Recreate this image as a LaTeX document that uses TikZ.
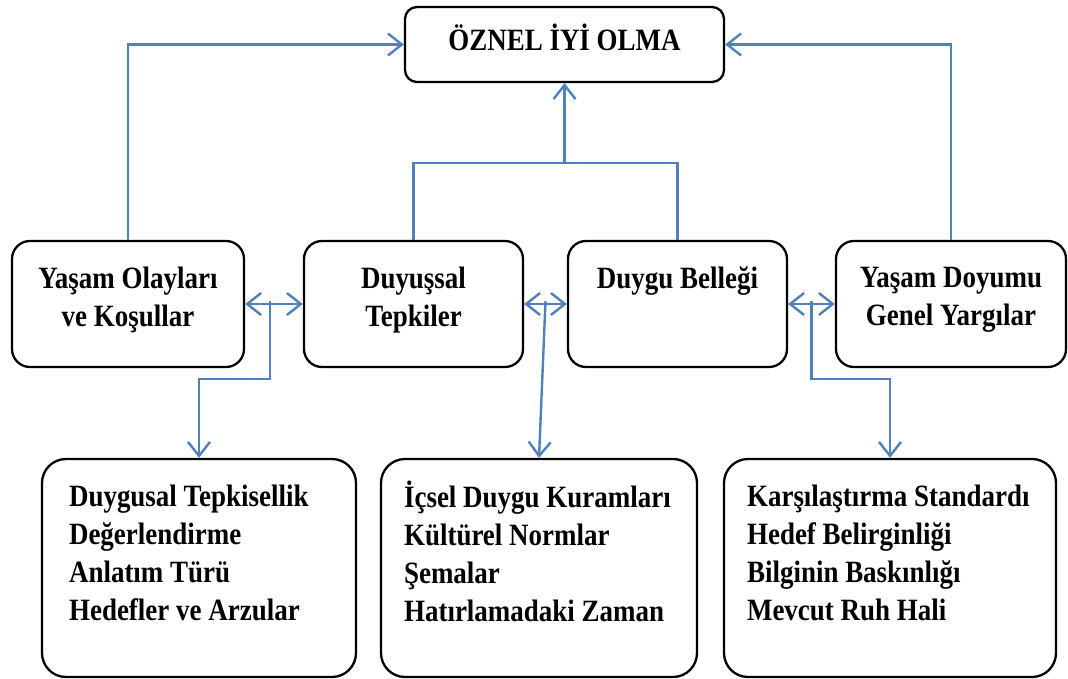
\documentclass[tikz,border=0pt]{standalone}
\usepackage{fontspec}
\setmainfont{Liberation Serif}[FakeStretch=0.87]
\usetikzlibrary{arrows.meta,calc}
\definecolor{linkblue}{HTML}{4F81BD}

\begin{document}
\begin{tikzpicture}[x=1pt,y=-1pt,
  >={Straight Barb[length=14pt,width=22pt]},
  box/.style={draw,line width=2.3pt,inner sep=0pt},
  txt/.style={font=\fontsize{31}{38}\selectfont\bfseries,inner sep=0pt},
  link/.style={draw=linkblue,line width=2.4pt}]
  \useasboundingbox (0,0) rectangle (1068,679);

  % boxes
  \node[box,rounded corners=12pt,minimum width=319,minimum height=75] (top) at (564.5,44.5) {};
  \node[box,rounded corners=18pt,minimum width=232,minimum height=126] (b1) at (128,304) {};
  \node[box,rounded corners=18pt,minimum width=219,minimum height=126] (b2) at (413.5,304) {};
  \node[box,rounded corners=18pt,minimum width=219,minimum height=126] (b3) at (677.5,304) {};
  \node[box,rounded corners=18pt,minimum width=230,minimum height=126] (b4) at (951,304) {};
  \node[box,rounded corners=24pt,minimum width=314,minimum height=218] (c1) at (199,568) {};
  \node[box,rounded corners=24pt,minimum width=316,minimum height=218] (c2) at (539,568) {};
  \node[box,rounded corners=24pt,minimum width=332,minimum height=218] (c3) at (890,568) {};

  % texts
  \node[txt,anchor=base] (t0) at ([yshift=-45pt]top.north) {ÖZNEL İYİ OLMA};
  \node[txt,align=center,anchor=north] (t1) at ([yshift=-27pt]b1.north) {Yaşam Olayları\\ve Koşullar};
  \node[txt,align=center,anchor=north] (t2) at ([yshift=-27pt]b2.north) {Duyuşsal\\Tepkiler};
  \node[txt,align=center,anchor=north] (t3) at ([yshift=-27pt]b3.north) {Duygu Belleği};
  \node[txt,align=center,anchor=north] (t4) at ([yshift=-27pt]b4.north) {Yaşam Doyumu\\Genel Yargılar};
  \node[txt,align=left,anchor=north west] (u1) at ([xshift=28pt,yshift=-27pt]c1.north west)
    {Duygusal Tepkisellik\\Değerlendirme\\Anlatım Türü\\Hedefler ve Arzular};
  \node[txt,align=left,anchor=north west] (u2) at ([xshift=24pt,yshift=-23pt]c2.north west)
    {İçsel Duygu Kuramları\\Kültürel Normlar\\Şemalar\\Hatırlamadaki Zaman};
  \node[txt,align=left,anchor=north west] (u3) at ([xshift=24pt,yshift=-27pt]c3.north west)
    {Karşılaştırma Standardı\\Hedef Belirginliği\\Bilginin Baskınlığı\\Mevcut Ruh Hali};

  % links
  \coordinate (j0) at (564.5,163);
  \coordinate (j1) at ($(b1.east)!0.43!(b2.west)$);
  \coordinate (j2) at ($(b2.east)!0.5!(b3.west)$);
  \coordinate (j3) at ($(b3.east)!0.5!(b4.west)$);
  \draw[link,->] (b1.north) |- (top.west);
  \draw[link,->] (b4.north) |- (top.east);
  \draw[link] (b2.north) |- (j0) -| (b3.north);
  \draw[link,->] (j0) -- (top.south);
  \draw[link,<->] (b1.east) -- (b2.west);
  \draw[link,<->] (b2.east) -- (b3.west);
  \draw[link,<->] (b3.east) -- (b4.west);
  \draw[link,->] ([yshift=3pt]j1) -- ++(0,78) -| (c1.north);
  \draw[link,->] ([yshift=3pt]j2) -- (c2.north);
  \draw[link,->] ([yshift=3pt]j3) -- ++(0,78) -| (c3.north);
\end{tikzpicture}
\end{document}
